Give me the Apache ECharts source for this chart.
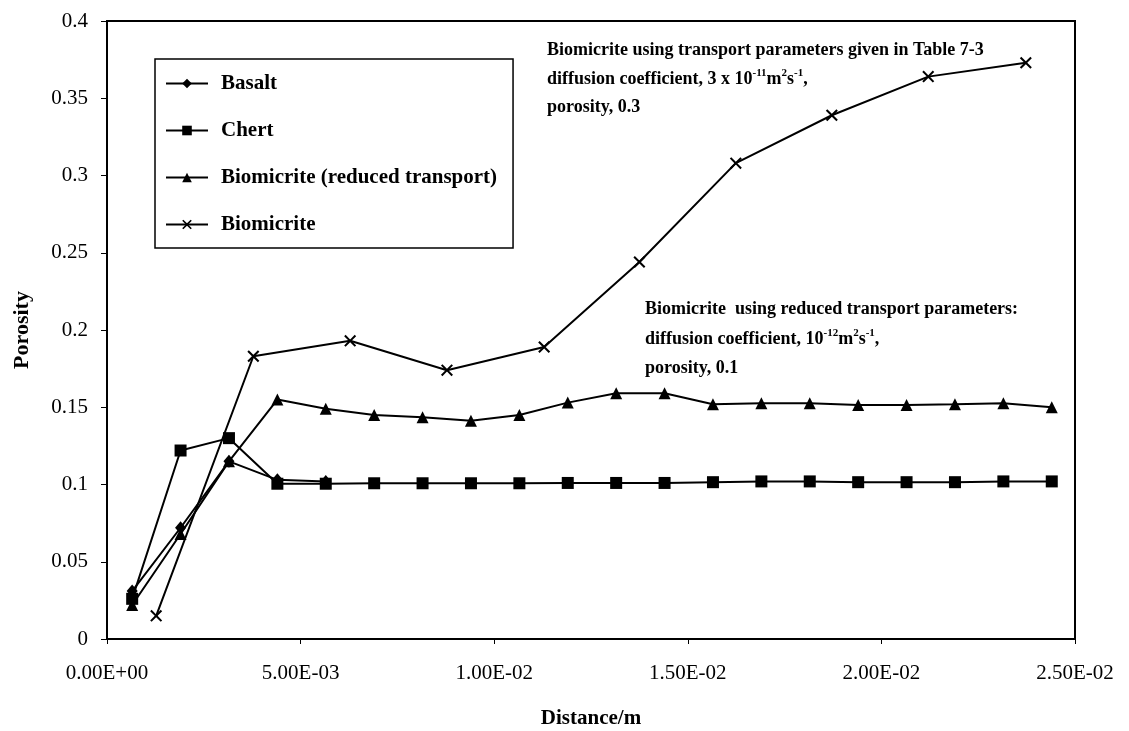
<!DOCTYPE html>
<html>
<head>
<meta charset="utf-8">
<script src="https://cdn.jsdelivr.net/npm/echarts@6/dist/echarts.min.js"></script>
<style>
html,body{margin:0;padding:0;background:#fff;}
#chart{width:1129px;height:731px;}
</style>
</head>
<body>
<div id="chart"></div>
<script>
// ---- data ----
const seriesNames = ['Basalt', 'Chert', 'Biomicrite (reduced transport)', 'Biomicrite'];

const gridDistance = [0.00065, 0.0019, 0.00315, 0.0044, 0.00565, 0.0069, 0.00815, 0.0094, 0.01065, 0.0119,
                      0.01315, 0.0144, 0.01565, 0.0169, 0.01815, 0.0194, 0.02065, 0.0219, 0.02315, 0.0244];

const basaltDistance = [0.00065, 0.0019, 0.00315, 0.0044, 0.00565];
const basaltPorosity = [0.031, 0.072, 0.115, 0.103, 0.102];

const chertPorosity = [0.026, 0.122, 0.130, 0.1005, 0.1005, 0.1008, 0.1008, 0.1008, 0.1008, 0.101,
                       0.101, 0.101, 0.1015, 0.102, 0.102, 0.1015, 0.1015, 0.1015, 0.102, 0.102];

const reducedPorosity = [0.022, 0.068, 0.115, 0.155, 0.149, 0.145, 0.1435, 0.1413, 0.145, 0.153,
                         0.159, 0.159, 0.152, 0.1526, 0.1526, 0.1515, 0.1515, 0.152, 0.1526, 0.150];

const biomicriteDistance = [0.00127, 0.00378, 0.00628, 0.00878, 0.01129, 0.01375, 0.01624, 0.01872, 0.02121, 0.02373];
const biomicritePorosity = [0.015, 0.183, 0.193, 0.174, 0.189, 0.244, 0.308, 0.339, 0.364, 0.373];

const xTickValues = [0, 0.005, 0.01, 0.015, 0.02, 0.025];
const yTickLabels = ['0', '0.05', '0.1', '0.15', '0.2', '0.25', '0.3', '0.35', '0.4'];

// ---- helpers ----
function pairs(xs, ys) { return xs.map((x, i) => [x, ys[i]]); }
function sci(v) {
  if (v === 0) return '0.00E+00';
  let e = Math.floor(Math.log10(Math.abs(v)) + 1e-9);
  let m = v / Math.pow(10, e);
  const sign = e < 0 ? '-' : '+';
  const ae = Math.abs(e);
  return m.toFixed(2) + 'E' + sign + (ae < 10 ? '0' + ae : '' + ae);
}

const SERIF = '"Liberation Serif", "DejaVu Serif", serif';
const crossPath = 'path://M0,1.2L1.2,0L5,3.8L8.8,0L10,1.2L6.2,5L10,8.8L8.8,10L5,6.2L1.2,10L0,8.8L3.8,5Z';

function lineSeries(name, data, symbol, size) {
  return {
    name: name, type: 'line', data: data, symbol: symbol, symbolSize: size,
    showSymbol: true, animation: false,
    lineStyle: { color: '#000', width: 2 },
    itemStyle: { color: '#000', borderColor: '#000', borderWidth: 0 },
    emphasis: { disabled: true }
  };
}

const chart = echarts.init(document.getElementById('chart'), null, { renderer: 'canvas' });

const supStyle = { fontSize: 11, fontWeight: 'bold', fontFamily: SERIF, fill: '#000', verticalAlign: 'top', lineHeight: 22 };
const baseRich = { fontSize: 18, fontWeight: 'bold', fontFamily: SERIF, fill: '#000', lineHeight: 22 };

function annot(x, y, text) {
  return {
    type: 'text', x: x, y: y, z: 10,
    style: {
      text: text, fill: '#000', fontFamily: SERIF, fontSize: 18, fontWeight: 'bold',
      align: 'left', verticalAlign: 'middle',
      rich: { b: baseRich, sup: supStyle }
    }
  };
}

chart.setOption({
  backgroundColor: '#fff',
  animation: false,
  grid: { left: 107, right: 54, top: 21, bottom: 92, show: true, borderColor: '#000', borderWidth: 2,
          containLabel: false, outerBoundsMode: 'none' },
  xAxis: {
    type: 'value', min: 0, max: 0.025, interval: 0.005,
    name: 'Distance/m', nameLocation: 'middle', nameGap: 69,
    nameTextStyle: { fontFamily: SERIF, fontWeight: 'bold', fontSize: 21, color: '#000' },
    axisLine: { show: true, lineStyle: { color: '#000', width: 2 } },
    axisTick: { show: true, inside: false, length: 5, lineStyle: { color: '#000', width: 1 } },
    axisLabel: { margin: 24, fontFamily: SERIF, fontSize: 21, color: '#000',
      formatter: function (v) { return sci(v); } },
    splitLine: { show: false }
  },
  yAxis: {
    type: 'value', min: 0, max: 0.4, interval: 0.05,
    name: 'Porosity', nameLocation: 'middle', nameGap: 74,
    nameTextStyle: { fontFamily: SERIF, fontWeight: 'bold', fontSize: 22, color: '#000' },
    axisLine: { show: true, lineStyle: { color: '#000', width: 2 } },
    axisTick: { show: true, inside: false, length: 6, lineStyle: { color: '#000', width: 1 } },
    axisLabel: { margin: 19, fontFamily: SERIF, fontSize: 21, color: '#000',
      formatter: function (v) { const i = Math.round(v / 0.05); return yTickLabels[i] !== undefined ? yTickLabels[i] : String(v); } },
    splitLine: { show: false }
  },
  legend: {
    orient: 'vertical', left: 155, top: 59,
    data: seriesNames,
    itemWidth: 42, itemHeight: 12, itemGap: 26,
    padding: [14, 16, 13, 10],
    backgroundColor: '#fff', borderColor: '#000', borderWidth: 1.5,
    selectedMode: false,
    textStyle: { fontFamily: SERIF, fontWeight: 'bold', fontSize: 21, color: '#000', padding: [0, 0, 0, 8] }
  },
  series: [
    lineSeries(seriesNames[0], pairs(basaltDistance, basaltPorosity), 'diamond', [11, 13]),
    lineSeries(seriesNames[1], pairs(gridDistance, chertPorosity), 'rect', 12),
    lineSeries(seriesNames[2], pairs(gridDistance, reducedPorosity), 'triangle', 12),
    lineSeries(seriesNames[3], pairs(biomicriteDistance, biomicritePorosity), crossPath, 12)
  ],
  graphic: [
    annot(547, 50, '{b|Biomicrite using transport parameters given in Table 7-3}'),
    annot(547, 79, '{b|diffusion coefficient, 3 x 10}{sup|-11}{b|m}{sup|2}{b|s}{sup|-1}{b|,}'),
    annot(547, 107, '{b|porosity, 0.3}'),
    annot(645, 309, '{b|Biomicrite  using reduced transport parameters:}'),
    annot(645, 339, '{b|diffusion coefficient, 10}{sup|-12}{b|m}{sup|2}{b|s}{sup|-1}{b|,}'),
    annot(645, 368, '{b|porosity, 0.1}')
  ]
});
</script>
</body>
</html>
